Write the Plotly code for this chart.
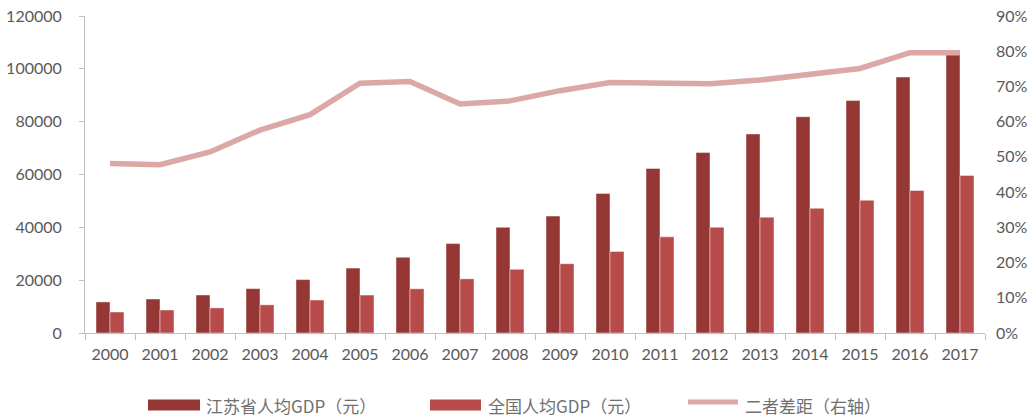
import plotly.graph_objects as go

years = [str(y) for y in range(2000, 2018)]
jiangsu_gdp = [11765, 12882, 14391, 16809, 20223, 24560, 28685, 33837, 40014,
               44253, 52840, 62290, 68347, 75354, 81874, 87995, 96887, 107150]
china_gdp = [7942, 8717, 9506, 10666, 12487, 14368, 16738, 20505, 24121,
             26222, 30876, 36403, 40007, 43852, 47203, 50251, 53935, 59660]
gap_ratio = [0.481, 0.478, 0.514, 0.576, 0.620, 0.709, 0.714, 0.650, 0.659,
             0.688, 0.711, 0.711, 0.708, 0.718, 0.734, 0.751, 0.796, 0.796]

names = ["江苏省人均GDP（元）", "全国人均GDP（元）", "二者差距（右轴）"]
c_js = "#953735"
c_cn = "#B64B49"
c_line = "#DBA8A7"

W, H = 1031, 417
L, R, T, B = 85, 46, 16, 84
pw, ph = W - L - R, H - T - B


def px(x):
    return (x - L) / pw


def py(y):
    return (H - B - y) / ph


fig = go.Figure()
fig.add_trace(go.Bar(x=years, y=jiangsu_gdp, name=names[0], marker_color=c_js,
                     marker_line=dict(color="rgba(255,255,255,0.45)", width=1)))
fig.add_trace(go.Bar(x=years, y=china_gdp, name=names[1], marker_color=c_cn,
                     marker_line=dict(color="rgba(255,255,255,0.45)", width=1)))
fig.add_trace(go.Scatter(x=years, y=gap_ratio, name=names[2], yaxis="y2",
                         mode="lines", line=dict(color=c_line, width=5.5)))

tickfont = dict(family="Lato, Open Sans, sans-serif", size=16, color="#595959")
legfont = dict(family="Noto Sans CJK SC, sans-serif", size=17, color="#707070")

fig.update_layout(
    width=W, height=H,
    margin=dict(l=L, r=R, t=T, b=B, autoexpand=False),
    paper_bgcolor="white", plot_bgcolor="white",
    showlegend=False,
    barmode="group", bargap=0.44, bargroupgap=0,
    xaxis=dict(type="category", showline=True, linecolor="#BFBFBF", linewidth=1,
               ticks="outside", tickson="boundaries", ticklen=6, tickcolor="#BFBFBF",
               tickfont=tickfont, showgrid=False, ticklabelstandoff=7, automargin=False),
    yaxis=dict(range=[0, 120000], dtick=20000, showline=True, linecolor="#BFBFBF",
               ticks="outside", ticklen=5, tickcolor="#BFBFBF", showgrid=False,
               zeroline=False, tickfont=tickfont, tickformat="d", ticklabelstandoff=14,
               automargin=False),
    yaxis2=dict(range=[0, 0.9], dtick=0.1, overlaying="y", side="right",
                tickformat=".0%", showgrid=False, showline=False, zeroline=False,
                tickfont=tickfont, ticklabelstandoff=10, automargin=False),
)

# manual legend
shapes = [
    dict(type="rect", xref="paper", yref="paper", x0=px(148), x1=px(200),
         y0=py(410.5), y1=py(399.5), fillcolor=c_js, line=dict(width=0)),
    dict(type="rect", xref="paper", yref="paper", x0=px(430), x1=px(481),
         y0=py(410.5), y1=py(399.5), fillcolor=c_cn, line=dict(width=0)),
    dict(type="line", xref="paper", yref="paper", x0=px(688), x1=px(738),
         y0=py(402), y1=py(402), line=dict(color=c_line, width=5)),
]
fig.update_layout(shapes=shapes)
for xpos, nm in zip([204, 486, 743], names):
    fig.add_annotation(x=px(xpos), y=py(405), xref="paper", yref="paper",
                       text=nm, showarrow=False, xanchor="left", yanchor="middle",
                       font=legfont)

fig.write_html("out.html")
